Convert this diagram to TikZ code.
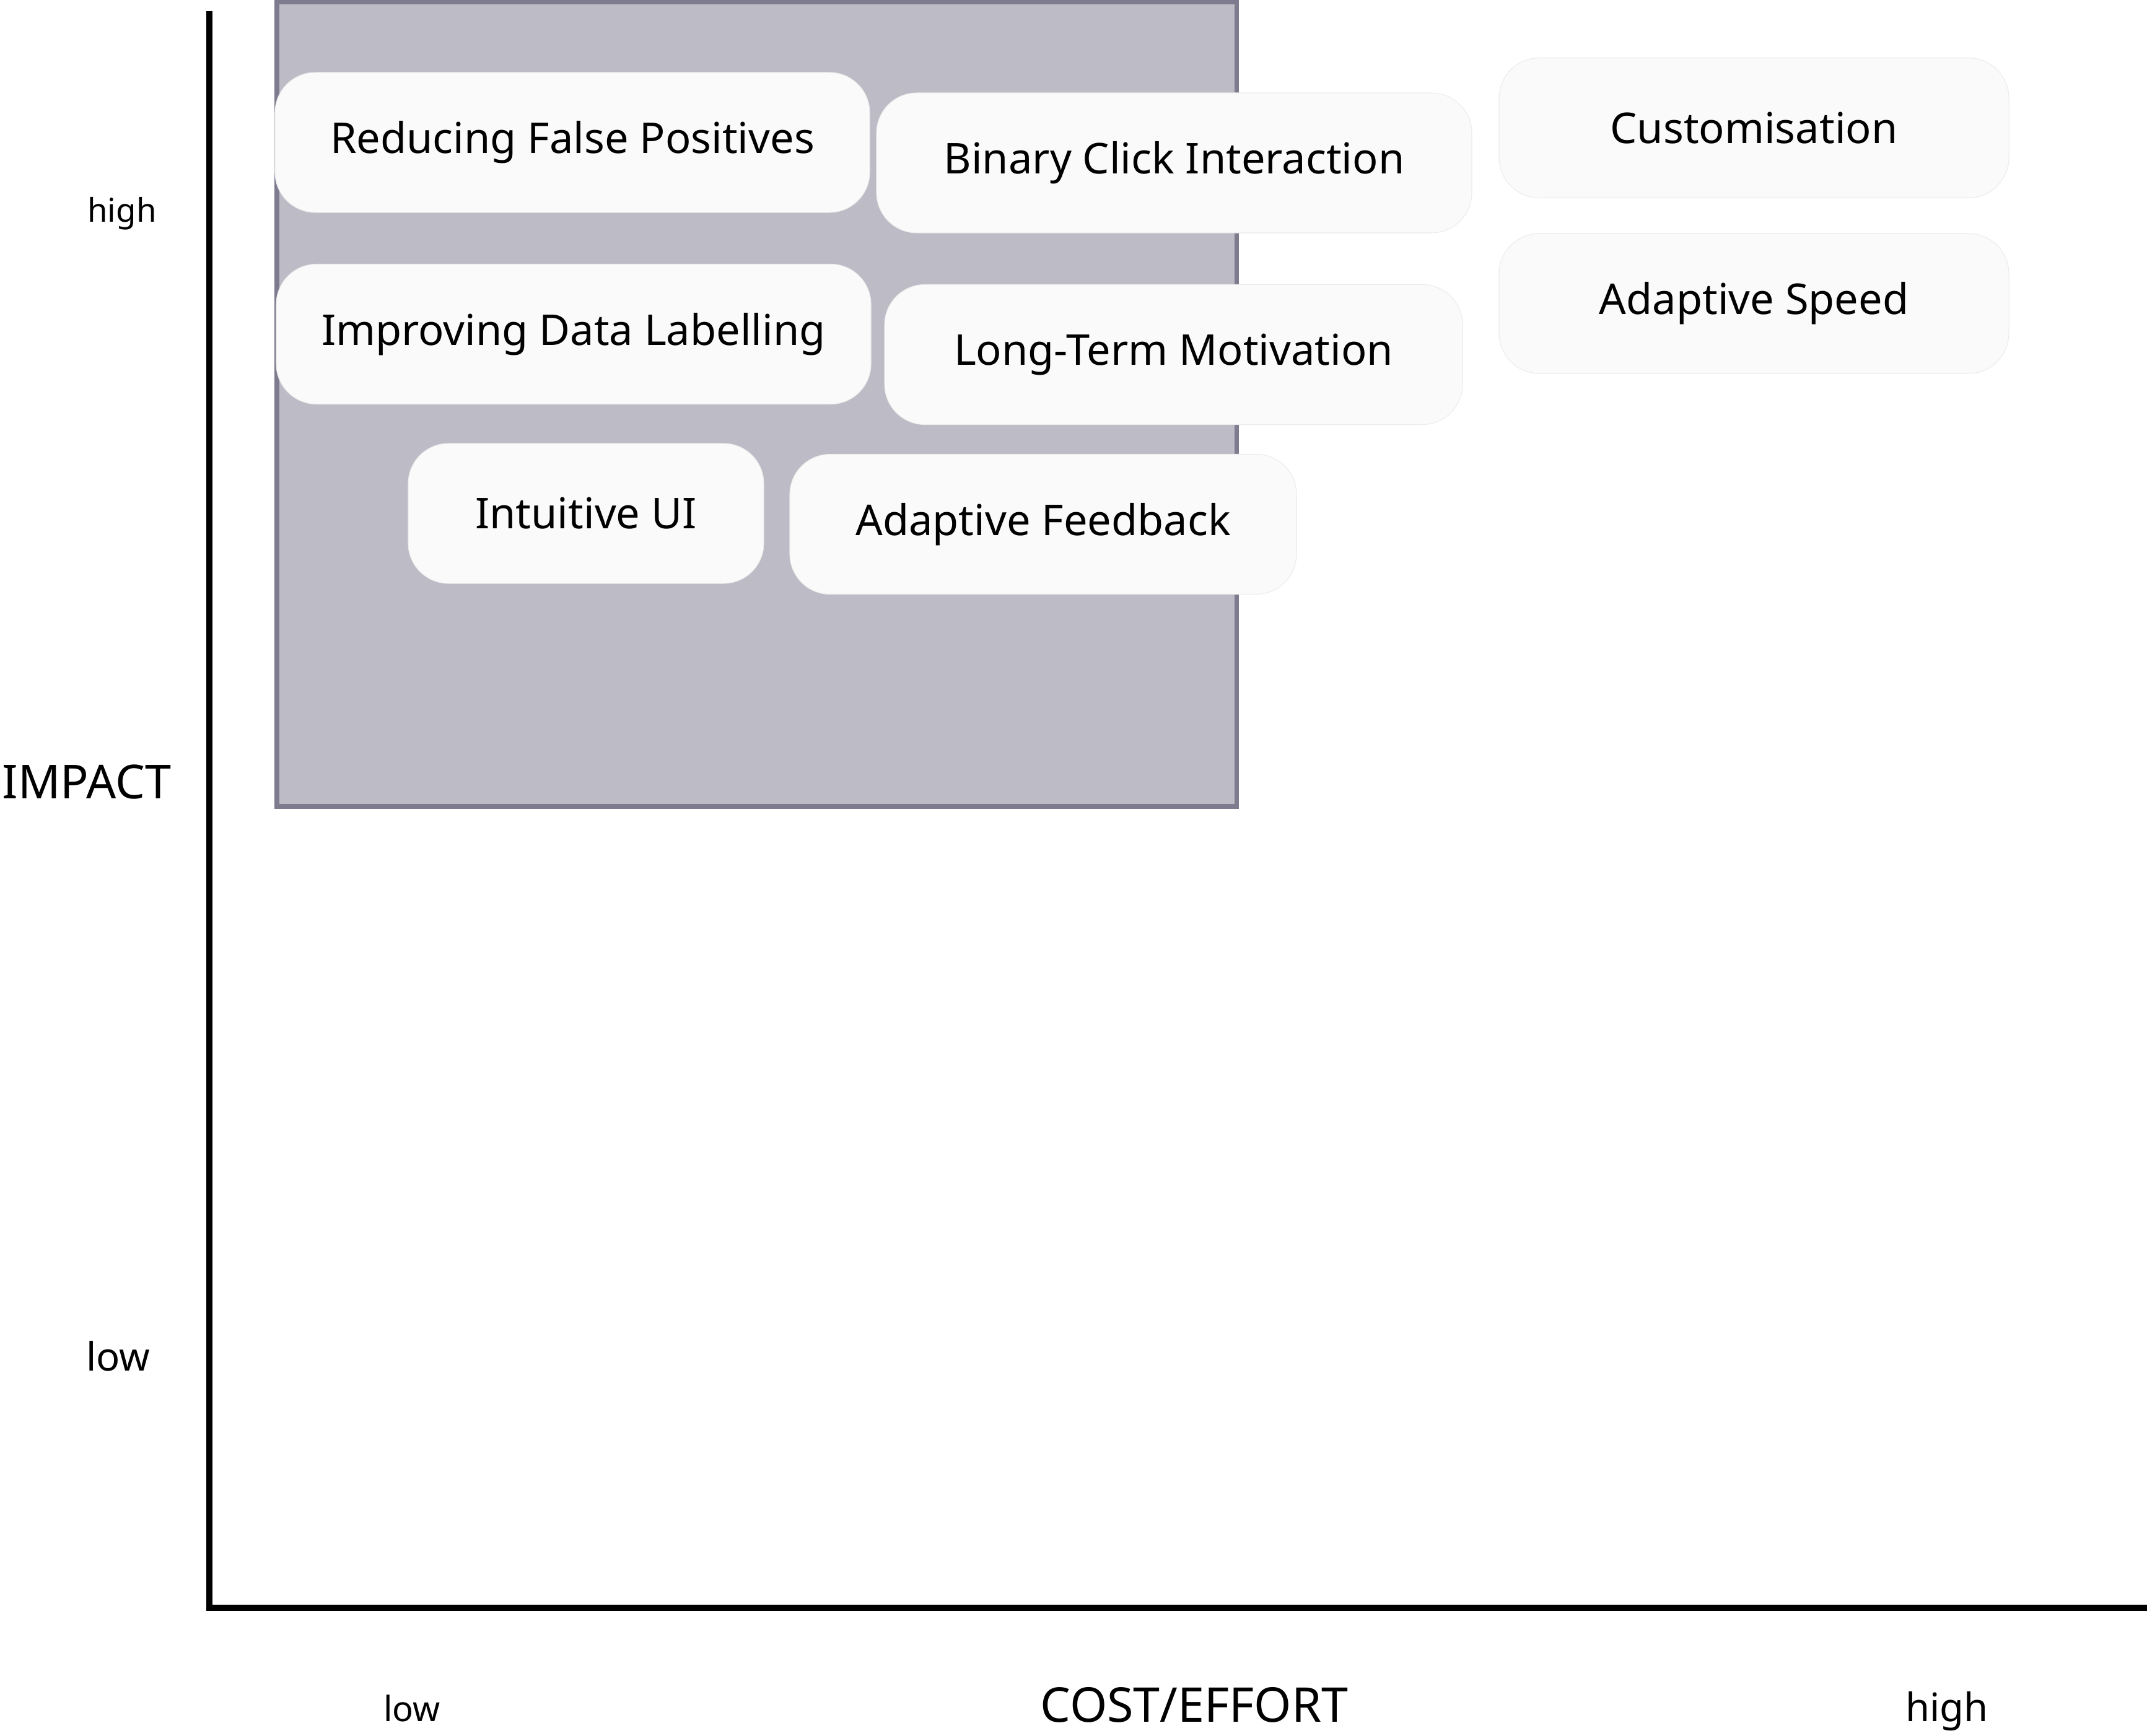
\documentclass[tikz,border=0pt]{standalone}
\usepackage{fontspec}
\setmainfont{Noto Sans}
\usepackage{xcolor}
\usepackage{tikz}
\definecolor{zonefill}{HTML}{BCBBC6}
\definecolor{zoneedge}{HTML}{7F7B8F}
\definecolor{cardfill}{HTML}{FAFAFA}
\definecolor{cardedge}{HTML}{EBEBEB}

\begin{document}
\begin{tikzpicture}[card/.style={fill=cardfill, draw=cardedge, line width=0.3pt, rounded corners=0.65cm, minimum height=2.26cm, inner sep=0pt, font=\fontsize{19.5pt}{23pt}\selectfont},
   axislabel/.style={inner sep=0pt, anchor=base}]
   \useasboundingbox (0,0) rectangle (34.66,-28.03);
   \filldraw[fill=zonefill, draw=zoneedge, line width=2pt] (4.47,-0.035) rectangle (19.96,-13.02);
   \coordinate (ytop) at (3.38,-0.18);
   \coordinate (origin) at (3.38,-25.96);
   \coordinate (xend) at (34.66,-25.96);
   \draw[line width=2.6pt] (ytop) -- (origin) -- (xend);
   \node[card, minimum width=9.60cm] (rfp) at (9.24,-2.30) {Reducing False Positives};
   \node[card, minimum width=9.61cm] (bci) at (18.955,-2.63) {Binary Click Interaction};
   \node[card, minimum width=8.23cm] (cust) at (28.315,-2.065) {Customisation};
   \node[card, minimum width=8.23cm] (aspeed) at (28.315,-4.90) {Adaptive Speed};
   \node[card, minimum width=9.60cm] (idl) at (9.26,-5.395) {Improving Data Labelling};
   \node[card, minimum width=9.33cm] (ltm) at (18.945,-5.725) {Long-Term Motivation};
   \node[card, minimum width=5.74cm] (iui) at (9.46,-8.29) {Intuitive UI};
   \node[card, minimum width=8.18cm] (afb) at (16.84,-8.465) {Adaptive Feedback};
   \node[axislabel, font=\fontsize{15pt}{18pt}\selectfont] (yhigh) at (1.97,-3.58) {high};
   \node[axislabel, font=\fontsize{21.5pt}{26pt}\selectfont] (impact) at (1.40,-12.89) {IMPACT};
   \node[axislabel, font=\fontsize{18pt}{22pt}\selectfont] (ylow) at (1.91,-22.13) {low};
   \node[axislabel, font=\fontsize{16pt}{19pt}\selectfont] (xlow) at (6.65,-27.79) {low};
   \node[axislabel, font=\fontsize{22pt}{26pt}\selectfont] (cost) at (19.28,-27.80) {COST/EFFORT};
   \node[axislabel, font=\fontsize{18pt}{22pt}\selectfont] (xhigh) at (31.43,-27.79) {high};
\end{tikzpicture}
\end{document}
